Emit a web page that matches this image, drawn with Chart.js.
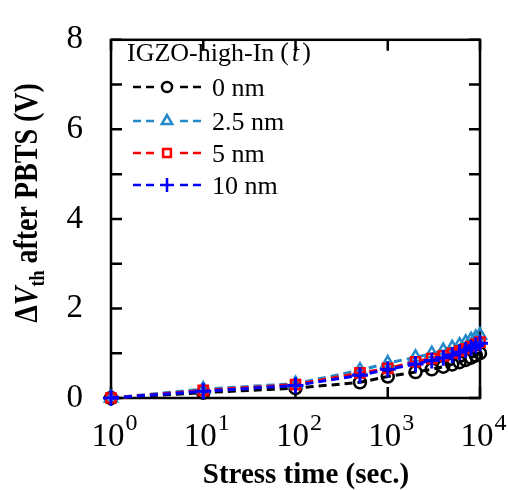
<!DOCTYPE html>
<html><head><meta charset="utf-8">
<script src="https://cdn.jsdelivr.net/npm/chart.js@4.4.1/dist/chart.umd.min.js"></script>
<style>html,body{margin:0;padding:0;background:#fff;}#wrap{width:508px;height:490px;}</style>
</head><body><div id="wrap"><canvas id="c" width="508" height="490"></canvas></div>
<script>
const times = [1, 10, 100, 500, 1000, 2000, 3000, 4000, 5000, 6000, 7000, 8000, 9000, 10000];
const dv0nm  = [0, 0.12, 0.22, 0.35, 0.48, 0.58, 0.64, 0.70, 0.75, 0.80, 0.85, 0.90, 0.95, 1.00];
const dv25nm = [0, 0.20, 0.32, 0.62, 0.78, 0.91, 0.99, 1.06, 1.12, 1.18, 1.24, 1.30, 1.35, 1.40];
const dv5nm  = [0, 0.17, 0.30, 0.56, 0.66, 0.81, 0.88, 0.94, 1.00, 1.05, 1.10, 1.15, 1.20, 1.25];
const dv10nm = [0, 0.15, 0.28, 0.51, 0.64, 0.76, 0.84, 0.90, 0.96, 1.02, 1.07, 1.12, 1.17, 1.22];
const seriesNames = ['0 nm', '2.5 nm', '5 nm', '10 nm'];
const xTickValues = [1, 10, 100, 1000, 10000];
const xTickExponents = ['0', '1', '2', '3', '4'];
const yTickValues = [0, 2, 4, 6, 8];
const legendTitle = 'IGZO-high-In';

const colors = ['#000000', '#2389c9', '#ff0000', '#0000ff'];
const styles = ['circle', 'triangle', 'rect', 'cross'];
const radii = [6, 7, 6.5, 8];
const borders = [2.5, 2.5, 2.5, 3];
const allSeries = [dv0nm, dv25nm, dv5nm, dv10nm];
const SERIF = '"Liberation Serif", "Times New Roman", serif';

const datasets = allSeries.map((vals, i) => ({
  label: seriesNames[i],
  data: times.map((t, k) => ({x: t, y: vals[k]})),
  borderColor: colors[i],
  backgroundColor: 'rgba(0,0,0,0)',
  borderWidth: 3,
  borderDash: [8, 5],
  pointStyle: styles[i],
  pointRadius: radii[i],
  pointBorderWidth: borders[i],
  pointBorderColor: colors[i],
  pointBackgroundColor: 'rgba(0,0,0,0)',
  order: 3 - i,
  clip: false,
  tension: 0
}));

const decor = {
  id: 'decor',
  beforeDatasetsDraw(chart) {
    const {ctx, chartArea: a, scales} = chart;
    ctx.save();
    ctx.strokeStyle = '#000';
    ctx.lineWidth = 2.5;
    ctx.strokeRect(a.left, a.top, a.right - a.left, a.bottom - a.top);
    ctx.beginPath();
    for (let v = 0; v <= 8; v++) {
      const y = scales.y.getPixelForValue(v);
      ctx.moveTo(a.left, y); ctx.lineTo(a.left + 11, y);
      ctx.moveTo(a.right, y); ctx.lineTo(a.right - 11, y);
    }
    xTickValues.forEach(v => {
      const x = scales.x.getPixelForValue(v);
      ctx.moveTo(x, a.bottom); ctx.lineTo(x, a.bottom - 11);
      ctx.moveTo(x, a.top); ctx.lineTo(x, a.top + 11);
    });
    ctx.stroke();
    ctx.restore();
  },
  afterDraw(chart) {
    const {ctx, chartArea: a, scales} = chart;
    ctx.save();
    ctx.fillStyle = '#000';
    // x tick labels with superscript exponents
    ctx.textBaseline = 'alphabetic';
    xTickValues.forEach((v, i) => {
      const x = scales.x.getPixelForValue(v);
      ctx.font = '33px ' + SERIF;
      const w1 = ctx.measureText('10').width;
      ctx.font = '24px ' + SERIF;
      const w2 = ctx.measureText(xTickExponents[i]).width;
      const start = x - (w1 + w2) / 2 + 3;
      ctx.font = '33px ' + SERIF;
      ctx.textAlign = 'left';
      ctx.fillText('10', start, 446);
      ctx.font = '24px ' + SERIF;
      ctx.fillText(xTickExponents[i], start + w1 + 1, 430);
    });
    // x title
    ctx.font = 'bold 29px ' + SERIF;
    ctx.textAlign = 'center';
    ctx.fillText('Stress time (sec.)', 306, 483);
    // y title
    ctx.save();
    ctx.translate(37, 203);
    ctx.rotate(-Math.PI / 2);
    ctx.scale(1, 1.18);
    const parts = [
      {t: 'Δ', f: 'bold 28px ' + SERIF, dy: 0},
      {t: 'V', f: 'italic bold 28px ' + SERIF, dy: 0},
      {t: 'th', f: 'bold 18px ' + SERIF, dy: 6},
      {t: ' after PBTS (V)', f: 'bold 28px ' + SERIF, dy: 0}
    ];
    let tot = 0;
    parts.forEach(p => { ctx.font = p.f; p.w = ctx.measureText(p.t).width; tot += p.w; });
    let cx = -tot / 2;
    ctx.textAlign = 'left';
    parts.forEach(p => { ctx.font = p.f; ctx.fillText(p.t, cx, p.dy); cx += p.w; });
    ctx.restore();
    // legend
    ctx.textAlign = 'left';
    ctx.textBaseline = 'alphabetic';
    ctx.font = '26px ' + SERIF;
    let lx = 127;
    ctx.fillText(legendTitle, lx, 61);
    lx += ctx.measureText(legendTitle).width + 6;
    ctx.fillText('(', lx, 60);
    lx += ctx.measureText('(').width + 3;
    ctx.font = 'italic 26px ' + SERIF;
    ctx.fillText('t', lx, 61);
    lx += ctx.measureText('t').width + 3;
    ctx.font = '26px ' + SERIF;
    ctx.fillText(')', lx, 60);
    const rows = [87, 121, 153, 185];
    seriesNames.forEach((name, i) => {
      const y = rows[i];
      ctx.save();
      ctx.strokeStyle = colors[i];
      ctx.lineWidth = 2.5;
      ctx.beginPath();
      [[133, 141], [146, 154], [180, 188], [193, 201]].forEach(s => {
        ctx.moveTo(s[0], y); ctx.lineTo(s[1], y);
      });
      ctx.stroke();
      ctx.fillStyle = 'rgba(0,0,0,0)';
      Chart.helpers.drawPoint(ctx, {pointStyle: styles[i], radius: radii[i] - 1, borderWidth: borders[i]}, 167, y);
      ctx.restore();
      ctx.fillStyle = '#000';
      ctx.font = '26px ' + SERIF;
      ctx.fillText(name, 212, y + 9);
    });
    ctx.restore();
  }
};

new Chart(document.getElementById('c'), {
  type: 'line',
  data: {datasets},
  options: {
    responsive: false,
    animation: false,
    devicePixelRatio: 1,
    layout: {padding: {left: 0, right: 28, top: 29, bottom: 0}},
    plugins: {legend: {display: false}, tooltip: {enabled: false}},
    scales: {
      x: {
        type: 'logarithmic', min: 1, max: 10000,
        grid: {display: false}, border: {display: false},
        ticks: {display: false},
        afterFit(s) { s.height = 92; }
      },
      y: {
        type: 'linear', min: 0, max: 8,
        grid: {display: false}, border: {display: false},
        afterBuildTicks(s) { s.ticks = yTickValues.map(v => ({value: v})); },
        ticks: {color: '#000', font: {family: SERIF, size: 33}, padding: 20,
                callback: v => String(v)},
        afterFit(s) { s.width = 111; }
      }
    }
  },
  plugins: [decor]
});
</script>
</body></html>
